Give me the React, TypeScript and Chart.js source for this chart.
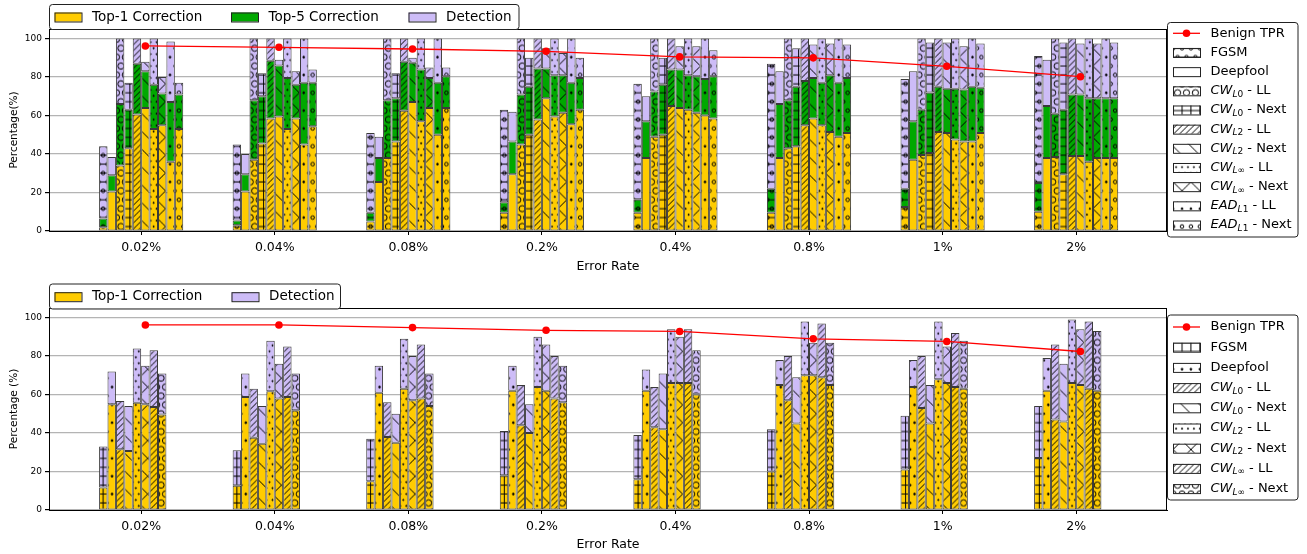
import React, { useEffect, useRef } from 'react';
import { Chart, registerables } from 'chart.js';

Chart.register(...registerables);

// ---------------- data ----------------
const CATEGORIES = ['0.02%', '0.04%', '0.08%', '0.2%', '0.4%', '0.8%', '1%', '2%'];
const Y_TICKS = [0, 20, 40, 60, 80, 100];

const TOP_ATTACKS = ['FGSM', 'Deepfool', 'CW_L0 - LL', 'CW_L0 - Next', 'CW_L2 - LL', 'CW_L2 - Next', 'CW_L∞ - LL', 'CW_L∞ - Next', 'EAD_L1 - LL', 'EAD_L1 - Next'];
const TOP_HATCHES = ['oo--', '', 'OO', '++', '///', '\\', '...', 'x', '..', 'oo'];
const TOP_TPR = [96.2, 95.5, 94.6, 93.4, 90.5, 90, 85.6, 80.2];
// rows: error rate, columns: attack
const TOP_TOP1 = [
  [2, 20.5, 34, 43, 60.5, 64, 53, 55, 36, 53],
  [3, 20.5, 37, 45.5, 58.5, 59.5, 53, 58.5, 45, 54.5],
  [5, 25.5, 38, 46.5, 62.5, 67, 57, 64, 50, 64],
  [9.5, 29.5, 45, 50, 58, 69, 59.5, 61.5, 55.5, 63],
  [9.5, 38, 49, 50, 65, 64, 63, 61.5, 60, 58.5],
  [9.5, 38, 43, 44, 55, 58.5, 55, 51.5, 49, 51],
  [12.5, 37, 39.5, 40.5, 51.5, 51, 47.5, 46.5, 46.5, 51],
  [10, 38, 38.5, 29.5, 39, 39, 36, 38, 38, 38],
];
const TOP_TOP5 = [
  [6.5, 29, 66, 63, 87, 83, 76, 71.5, 67, 71],
  [5.5, 29.5, 68, 70, 88.5, 86, 79.5, 76, 77, 77],
  [9.5, 38, 68, 69, 88, 87.5, 84, 79.5, 77, 80.5],
  [15, 46.5, 71, 75, 84.5, 84.5, 81, 81, 77, 79.5],
  [16.5, 57, 72.5, 76, 84, 84, 81, 80.5, 79, 80.5],
  [22, 66, 68, 75, 78, 79.5, 77, 81, 77, 79.5],
  [22, 57, 63, 72, 75, 74, 74, 73.5, 75, 74.5],
  [25, 65, 61, 63, 71, 71, 69, 69, 69, 69],
];
const TOP_DET = [
  [44, 38.5, 100, 77, 100, 88, 100, 80, 98.5, 77],
  [45, 40, 100, 82, 100, 89, 100, 83, 100, 84],
  [51, 49, 100, 82, 100, 90, 100, 85, 100, 85],
  [63, 62, 100, 90, 100, 95, 100, 92.5, 100, 90],
  [76.5, 70, 100, 90, 100, 96, 100, 96, 100, 94],
  [87, 83, 100, 95, 100, 97, 100, 97.5, 100, 97],
  [79, 83, 100, 98, 100, 98, 100, 96, 100, 97.5],
  [91, 89, 100, 98, 100, 97.5, 100, 97.5, 100, 98],
];

const BOT_ATTACKS = ['FGSM', 'Deepfool', 'CW_L0 - LL', 'CW_L0 - Next', 'CW_L2 - LL', 'CW_L2 - Next', 'CW_L∞ - LL', 'CW_L∞ - Next'];
const BOT_HATCHES = ['++', '..', '///', '\\', '...', 'x', '///', 'OO'];
const BOT_TPR = [96.2, 96.2, 94.8, 93.4, 92.8, 89, 87.6, 82.4];
const BOT_TOP1 = [
  [11.7, 55, 31.6, 30.7, 55.8, 55, 53.5, 49.6],
  [12.6, 58.7, 37.5, 34.5, 61.7, 58, 58.7, 51.8],
  [15, 61, 38, 35, 63, 57, 58, 54],
  [18, 62, 44, 40, 64, 62, 58, 56],
  [16, 62, 43, 42, 66, 66, 66, 60],
  [20, 65, 57, 45, 70, 70, 69, 65],
  [21, 64, 53, 45, 68, 66, 64, 63],
  [27, 62, 47, 46, 66, 65, 63, 62],
];
const BOT_DET = [
  [33, 72, 56.6, 54, 84, 75, 83, 71],
  [31, 71, 63, 54, 88, 76, 85, 71],
  [37, 75, 56, 50, 89, 80, 86, 71],
  [41, 75, 65, 55, 90, 86, 80, 75],
  [39, 73, 64, 71, 94, 90, 94, 83],
  [42, 78, 80, 69, 98, 87, 97, 87],
  [49, 78, 80, 65, 98, 85, 92, 88],
  [54, 79, 86, 76, 99, 94, 98, 93],
];

// ---------------- style ----------------
const YELLOW = '#FFCC00';
const GREEN = '#00A800';
const PURPLE = '#CDBCF7';
const EDGE = '#3a3a3a';
const RED = '#FF0000';
const GRID = '#b4b4b4';
const FAM = '"DejaVu Sans"';
const LEGEND_FONT = 13.5;
const W = 1307;
const N_STACKS = 10;
const CAT_PCT = 0.63;
const X_MIN = -0.69;
const X_MAX = 7.68;
const Y_MAX = 105;
const HATCH_UNIT = 107;
const HATCH_PHASE_X = 5;
const HATCH_PHASE_Y = 12.5; // in page coordinates

// ---------------- hatch patterns (matplotlib-like, density 6 per unit) ----------------
function makePattern(ctx: CanvasRenderingContext2D, color: string, hatch: string, pageTop: number): CanvasPattern | string {
  const U = HATCH_UNIT;
  const c = document.createElement('canvas');
  c.width = U; c.height = U;
  const g = c.getContext('2d')!;
  g.fillStyle = color;
  g.fillRect(0, 0, U, U);
  const cnt = (ch: string) => hatch.split(ch).length - 1;
  const D = 6;
  const nH = (cnt('-') + cnt('+')) * D;
  const nV = (cnt('|') + cnt('+')) * D;
  const nNE = (cnt('/') + cnt('x') + cnt('X')) * D;
  const nNW = (cnt('\\') + cnt('x') + cnt('X')) * D;
  const nSo = cnt('o') * D;
  const nLo = cnt('O') * D;
  const nDot = cnt('.') * D;
  g.strokeStyle = '#000';
  g.fillStyle = '#000';
  g.lineWidth = 1;
  g.beginPath();
  if (nH) for (let k = 0; k <= nH; k++) { const y = (k * U) / nH; g.moveTo(0, y); g.lineTo(U, y); }
  if (nV) for (let k = 0; k <= nV; k++) { const x = (k * U) / nV; g.moveTo(x, 0); g.lineTo(x, U); }
  if (nNE) for (let k = -nNE; k <= nNE; k++) { const x = (k * U) / nNE; g.moveTo(x, U); g.lineTo(x + U, 0); }
  if (nNW) for (let k = -nNW; k <= nNW; k++) { const x = (k * U) / nNW; g.moveTo(x, 0); g.lineTo(x + U, U); }
  g.stroke();
  const shapes = (n: number, size: number, filled: boolean) => {
    if (!n) return;
    const s = U / n;
    for (let r = 0; r <= n; r++) {
      const y = r * s;
      const xs: number[] = [];
      if (r % 2 === 0) for (let k = 0; k <= n; k++) xs.push(k * s);
      else for (let k = 0; k < n; k++) xs.push((k + 0.5) * s);
      for (const x of xs) {
        g.beginPath();
        g.arc(x, y, s * size, 0, Math.PI * 2);
        if (filled) g.fill();
        g.stroke();
      }
    }
  };
  shapes(nSo, 0.2, false);
  shapes(nLo, 0.35, false);
  shapes(nDot, 0.1, true);
  const p = ctx.createPattern(c, 'repeat');
  if (!p) return color;
  let py = (HATCH_PHASE_Y - pageTop) % U;
  if (py < 0) py += U;
  try { p.setTransform(new DOMMatrix().translate(HATCH_PHASE_X, py)); } catch (e) { /* ignore */ }
  return p;
}

// ---------------- text with subscripts ----------------
function drawRich(ctx: CanvasRenderingContext2D, label: string, x: number, y: number, size: number) {
  ctx.fillStyle = '#000';
  ctx.textBaseline = 'middle';
  ctx.textAlign = 'left';
  const m = /^([A-Za-z]+)_(\S+)(.*)$/.exec(label);
  if (!m) {
    ctx.font = `${size}px ${FAM}`;
    ctx.fillText(label, x, y);
    return;
  }
  let cx = x;
  const put = (t: string, font: string, dy: number) => {
    ctx.font = font;
    ctx.fillText(t, cx, y + dy);
    cx += ctx.measureText(t).width;
  };
  const ss = Math.round(size * 0.7);
  put(m[1], `italic ${size}px ${FAM}`, 0);
  put(m[2][0], `italic ${ss}px ${FAM}`, size * 0.28);
  put(m[2].slice(1), `${ss}px ${FAM}`, size * 0.28);
  put(m[3], `${size}px ${FAM}`, 0);
}

interface Layer { label: string; color: string; values: number[][] }
interface PanelSpec {
  pageTop: number;
  height: number;
  padTop: number;
  xAxisH: number;
  xTitlePadBottom: number;
  yTitle: string;
  attacks: string[];
  hatches: string[];
  layers: Layer[];
  tpr: number[];
  legendTop: { box: number[]; cy: number; xs: number[] };
  legendRight: { box: number[]; row0: number; dy: number };
}

function legendBox(ctx: CanvasRenderingContext2D, b: number[]) {
  ctx.save();
  ctx.beginPath();
  ctx.roundRect(b[0], b[1], b[2], b[3], 3);
  ctx.fillStyle = 'rgba(255,255,255,0.9)';
  ctx.fill();
  ctx.strokeStyle = '#222';
  ctx.lineWidth = 1;
  ctx.stroke();
  ctx.restore();
}

function buildConfig(ctx: CanvasRenderingContext2D, spec: PanelSpec): any {
  const datasets: any[] = [];
  const nA = spec.attacks.length;
  for (let a = 0; a < nA; a++) {
    spec.layers.forEach((layer, li) => {
      datasets.push({
        type: 'bar',
        label: layer.label,
        stack: 's' + a,
        order: 1,
        data: CATEGORIES.map((_, c) => ({
          x: c,
          y: layer.values[c][a] - (li > 0 ? spec.layers[li - 1].values[c][a] : 0),
        })),
        backgroundColor: makePattern(ctx, layer.color, spec.hatches[a], spec.pageTop),
        borderColor: EDGE,
        borderWidth: 1,
        borderSkipped: false,
      });
    });
  }
  for (let a = nA; a < N_STACKS; a++) {
    datasets.push({
      type: 'bar', label: '', stack: 's' + a, order: 1,
      data: CATEGORIES.map((_, c) => ({ x: c, y: 0 })),
      backgroundColor: 'rgba(0,0,0,0)', borderWidth: 0,
    });
  }
  const shift = CAT_PCT / N_STACKS / 2;
  datasets.push({
    type: 'line',
    label: 'Benign TPR',
    stack: 'tpr',
    order: 0,
    data: spec.tpr.map((v, c) => ({ x: c + shift, y: v })),
    borderColor: RED,
    borderWidth: 1.3,
    pointRadius: 3.8,
    pointBackgroundColor: RED,
    pointBorderWidth: 0,
    fill: false,
    tension: 0,
  });

  const whitePatterns = spec.hatches.map((h) => makePattern(ctx, '#ffffff', h, spec.pageTop));

  const decor = {
    id: 'decor',
    afterDraw(chart: any) {
      const g: CanvasRenderingContext2D = chart.ctx;
      const ar = chart.chartArea;
      g.save();
      g.strokeStyle = '#000';
      g.lineWidth = 1;
      g.strokeRect(Math.round(ar.left) + 0.5, Math.round(ar.top) + 0.5, Math.round(ar.right - ar.left) - 1, Math.round(ar.bottom - ar.top));
      // top horizontal legend
      const lt = spec.legendTop;
      legendBox(g, lt.box);
      spec.layers.forEach((layer, i) => {
        const x = lt.xs[i];
        g.fillStyle = layer.color;
        g.fillRect(x, lt.cy - 4.5, 27, 9);
        g.strokeStyle = '#222';
        g.lineWidth = 1;
        g.strokeRect(x + 0.5, lt.cy - 4.5 + 0.5, 27, 9);
        drawRich(g, layer.label, x + 37.5, lt.cy, LEGEND_FONT);
      });
      // right legend
      const lr = spec.legendRight;
      legendBox(g, lr.box);
      const sx = lr.box[0] + 5.5;
      const tx = lr.box[0] + 43;
      let y = lr.row0;
      g.strokeStyle = RED;
      g.lineWidth = 1.3;
      g.beginPath();
      g.moveTo(sx, y);
      g.lineTo(sx + 27, y);
      g.stroke();
      g.fillStyle = RED;
      g.beginPath();
      g.arc(sx + 13.5, y, 3.8, 0, Math.PI * 2);
      g.fill();
      drawRich(g, 'Benign TPR', tx, y, 13);
      spec.attacks.forEach((name, i) => {
        y = lr.row0 + lr.dy * (i + 1);
        g.fillStyle = whitePatterns[i];
        g.fillRect(sx, y - 4.5, 27, 9);
        g.strokeStyle = '#222';
        g.lineWidth = 1;
        g.strokeRect(sx + 0.5, y - 4.5 + 0.5, 27, 9);
        drawRich(g, name, tx, y, 13);
      });
      g.restore();
    },
  };

  return {
    data: { datasets },
    plugins: [decor],
    options: {
      responsive: false,
      animation: false,
      events: [],
      layout: { padding: { top: spec.padTop, right: W - 1167, left: 0, bottom: 0 } },
      plugins: { legend: { display: false }, tooltip: { enabled: false }, title: { display: false } },
      datasets: { bar: { categoryPercentage: CAT_PCT, barPercentage: 1 } },
      scales: {
        x: {
          type: 'linear',
          min: X_MIN,
          max: X_MAX,
          offset: false,
          afterBuildTicks: (s: any) => { s.ticks = CATEGORIES.map((_, i) => ({ value: i })); },
          afterFit: (s: any) => { s.height = spec.xAxisH; },
          ticks: {
            autoSkip: false,
            maxRotation: 0,
            padding: 5,
            color: '#000',
            font: { family: 'DejaVu Sans', size: 12.5 },
            callback: (_v: any, i: number) => CATEGORIES[i],
          },
          grid: { display: true, drawOnChartArea: false, drawTicks: true, tickLength: 4, color: '#000', offset: false },
          border: { display: true, color: '#000', width: 1 },
          title: { display: true, text: 'Error Rate', color: '#000', font: { family: 'DejaVu Sans', size: 12.5 }, padding: { top: 0, bottom: spec.xTitlePadBottom } },
        },
        y: {
          stacked: true,
          min: 0,
          max: Y_MAX,
          afterBuildTicks: (s: any) => { s.ticks = Y_TICKS.map((v) => ({ value: v })); },
          afterFit: (s: any) => { s.width = 49; },
          ticks: { color: '#000', padding: 3, font: { family: 'DejaVu Sans', size: 9 } },
          grid: { color: GRID, lineWidth: 1.2, drawTicks: true, tickLength: 4, tickColor: '#000' },
          border: { display: true, color: '#000', width: 1 },
          title: { display: true, text: spec.yTitle, color: '#000', font: { family: 'DejaVu Sans', size: 10.5 }, padding: { top: 8, bottom: 0 } },
        },
      },
    },
  };
}

const TOP_SPEC: PanelSpec = {
  pageTop: 0,
  height: 277,
  padTop: 29,
  xAxisH: 46,
  xTitlePadBottom: 3,
  yTitle: 'Percentage(%)',
  attacks: TOP_ATTACKS,
  hatches: TOP_HATCHES,
  layers: [
    { label: 'Top-1 Correction', color: YELLOW, values: TOP_TOP1 },
    { label: 'Top-5 Correction', color: GREEN, values: TOP_TOP5 },
    { label: 'Detection', color: PURPLE, values: TOP_DET },
  ],
  tpr: TOP_TPR,
  legendTop: { box: [49.5, 4.5, 469.5, 25], cy: 17, xs: [54.5, 231, 408.5] },
  legendRight: { box: [1167.5, 22.5, 130.5, 214.5], row0: 33.3, dy: 19.17 },
};

const BOT_SPEC: PanelSpec = {
  pageTop: 277,
  height: 277,
  padTop: 31,
  xAxisH: 44,
  xTitlePadBottom: 1.5,
  yTitle: 'Percentage (%)',
  attacks: BOT_ATTACKS,
  hatches: BOT_HATCHES,
  layers: [
    { label: 'Top-1 Correction', color: YELLOW, values: BOT_TOP1 },
    { label: 'Detection', color: PURPLE, values: BOT_DET },
  ],
  tpr: BOT_TPR,
  legendTop: { box: [49.5, 7, 291, 25], cy: 19.7, xs: [54.5, 231.5] },
  legendRight: { box: [1167.5, 38, 130.5, 185], row0: 50, dy: 20.2 },
};

function Panel({ spec }: { spec: PanelSpec }) {
  const ref = useRef<HTMLCanvasElement>(null);
  useEffect(() => {
    const canvas = ref.current!;
    const chart = new Chart(canvas, buildConfig(canvas.getContext('2d')!, spec));
    return () => chart.destroy();
  }, [spec]);
  return (
    <div style={{ position: 'absolute', left: 0, top: spec.pageTop, width: W, height: spec.height }}>
      <canvas ref={ref} width={W} height={spec.height} style={{ display: 'block' }} />
    </div>
  );
}

export default function App() {
  return (
    <div style={{ position: 'absolute', left: 0, top: 0, width: W, height: 554, background: '#fff' }}>
      <Panel spec={TOP_SPEC} />
      <Panel spec={BOT_SPEC} />
    </div>
  );
}
